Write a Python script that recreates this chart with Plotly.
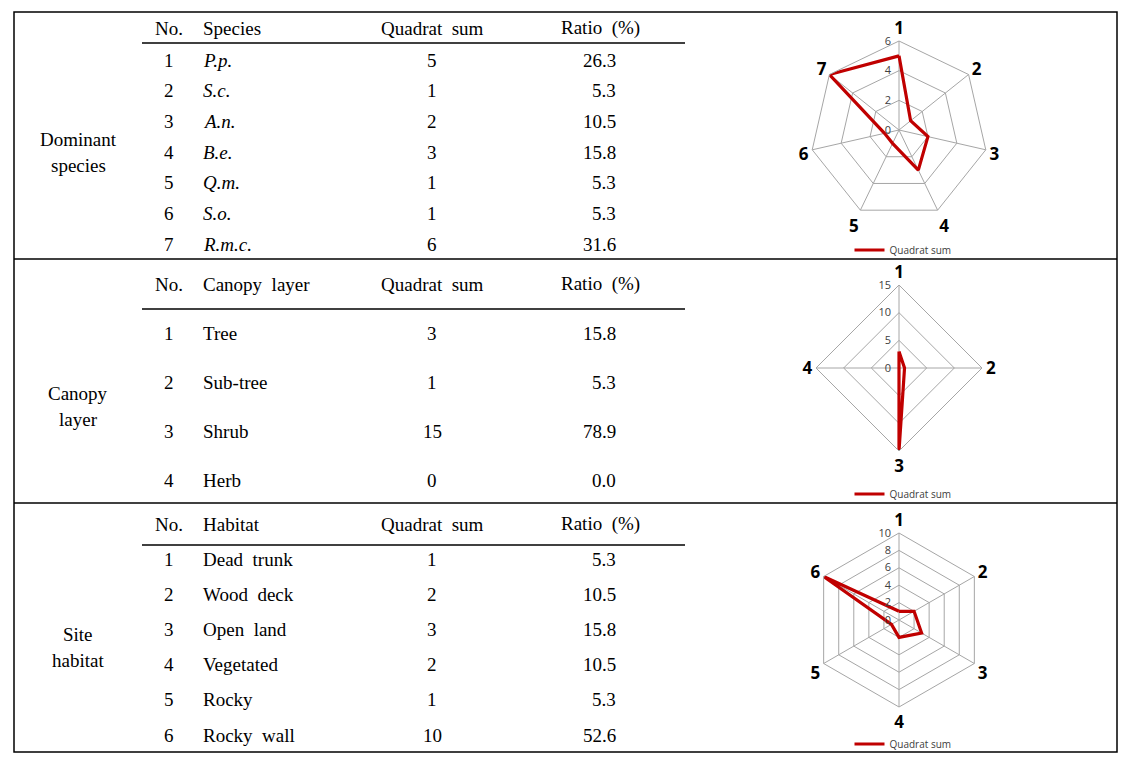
import plotly.graph_objects as go

# ---------------------------
# Data
# ---------------------------
species = ["P.p.", "S.c.", "A.n.", "B.e.", "Q.m.", "S.o.", "R.m.c."]
species_sum = [5, 1, 2, 3, 1, 1, 6]
species_ratio = [26.3, 5.3, 10.5, 15.8, 5.3, 5.3, 31.6]

canopy = ["Tree", "Sub-tree", "Shrub", "Herb"]
canopy_sum = [3, 1, 15, 0]
canopy_ratio = [15.8, 5.3, 78.9, 0.0]

habitat = ["Dead  trunk", "Wood  deck", "Open  land", "Vegetated", "Rocky", "Rocky  wall"]
habitat_sum = [1, 2, 3, 2, 1, 10]
habitat_ratio = [5.3, 10.5, 15.8, 10.5, 5.3, 52.6]

W, H = 1135, 765
OFF = 8  # page body margin, positions below are page pixels
RED = "#C00000"
GRID = "#A6A6A6"
SERIF = "Liberation Serif"

fig = go.Figure()

# invisible pixel-space axes for the table part (page coordinates)
fig.update_layout(
    xaxis=dict(range=[OFF, W + OFF], domain=[0, 1], visible=False, fixedrange=True),
    yaxis=dict(range=[H + OFF, OFF], domain=[0, 1], visible=False, fixedrange=True),
)

annotations = []
shapes = []


def txt(x, y, s, anchor="center", size=19):
    annotations.append(dict(x=x, y=y, xref="x", yref="y", text=s, showarrow=False,
                            xanchor=anchor, yanchor="middle",
                            font=dict(family=SERIF, size=size, color="black")))


def hline(y, x0, x1, w=1.5):
    shapes.append(dict(type="line", xref="x", yref="y", x0=x0, x1=x1, y0=y, y1=y,
                       line=dict(color="black", width=w)))


# outer frame and section separators
shapes.append(dict(type="rect", xref="x", yref="y", x0=14, x1=1117, y0=12, y1=752,
                   line=dict(color="black", width=1.5)))
hline(259, 14, 1117)
hline(503, 14, 1117)


def section(label, col_name, names, sums, ratios, head_y, rule_y, row0, step, italic=False):
    txt(169, head_y, "No.")
    txt(201, head_y, col_name, "left")
    txt(432, head_y, "Quadrat  sum")
    txt(600, head_y, "Ratio  (%)")
    hline(rule_y, 142, 685)
    for i, (n, s, r) in enumerate(zip(names, sums, ratios)):
        y = row0 + i * step
        txt(169, y, str(i + 1))
        txt(201, y, f"<i>{n}</i>" if italic else n, "left")
        txt(432, y, str(s))
        txt(618, y, f"{r:.1f}", "right")
    mid = (row0 + row0 + (len(names) - 1) * step) / 2
    txt(78, mid - 13, label[0])
    txt(78, mid + 13, label[1])


section(("Dominant", "species"), "Species", species, species_sum, species_ratio,
        28, 43, 60, 30.7, italic=True)
section(("Canopy", "layer"), "Canopy  layer", canopy, canopy_sum, canopy_ratio,
        284, 309, 333, 49.3)
section(("Site", "habitat"), "Habitat", habitat, habitat_sum, habitat_ratio,
        524, 545, 559, 35.2)


# ---------------------------
# Radar charts
# ---------------------------
def domain(cx, cy, r):
    cx, cy = cx - OFF, cy - OFF
    return dict(x=[(cx - r) / W, (cx + r) / W], y=[1 - (cy + r) / H, 1 - (cy - r) / H])


radars = [
    ("polar", "legend", species_sum, 6, 2, (899, 130, 89), 250),
    ("polar2", "legend2", canopy_sum, 15, 5, (899, 368, 83), 494),
    ("polar3", "legend3", habitat_sum, 10, 2, (899, 620, 87), 744),
]

for name, leg, vals, rmax, dt, (cx, cy, r), ly in radars:
    cats = [str(i + 1) for i in range(len(vals))]
    fig.add_trace(go.Scatterpolar(
        r=vals + vals[:1], theta=cats + cats[:1], mode="lines",
        line=dict(color=RED, width=3.2), name="Quadrat sum",
        subplot=name, legend=leg, showlegend=True))
    fig.update_layout({
        name: dict(
            domain=domain(cx, cy, r),
            gridshape="linear",
            bgcolor="white",
            radialaxis=dict(range=[0, rmax], dtick=dt, angle=90, side="counterclockwise",
                            tickangle=90, ticksuffix="  ", showline=False, ticks="",
                            gridcolor=GRID, gridwidth=1,
                            tickfont=dict(family="Open Sans", size=11, color="#404040")),
            angularaxis=dict(direction="clockwise", rotation=90, type="category",
                             categoryarray=cats, showline=True, linecolor=GRID, linewidth=1,
                             gridcolor=GRID, gridwidth=1, ticks="",
                             tickfont=dict(family="Open Sans", size=17, color="black",
                                           weight="bold")),
        ),
        leg: dict(x=(903 - OFF) / W, y=1 - (ly - OFF) / H, xanchor="center", yanchor="middle",
                  bgcolor="rgba(0,0,0,0)", itemwidth=30,
                  font=dict(family="Open Sans", size=10, color="#404040")),
    })

fig.update_layout(
    width=W, height=H,
    margin=dict(l=0, r=0, t=0, b=0),
    paper_bgcolor="white", plot_bgcolor="white",
    annotations=annotations, shapes=shapes,
)

fig.write_html("out.html")
